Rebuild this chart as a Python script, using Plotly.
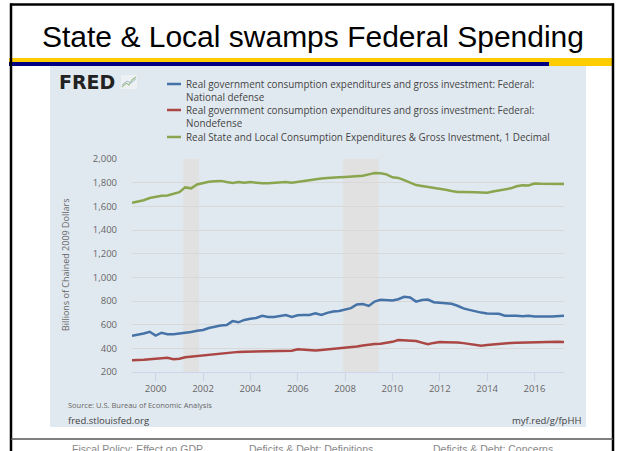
import pandas as pd
import plotly.graph_objects as go

# ---------------- data (quarterly, 1999Q1 - 2017Q2) ----------------
start_date = "1999-01-01"
n_quarters = 74

defense = [507, 515, 525, 540, 507, 532, 520, 520, 525, 532,
           538, 548, 555, 572, 585, 592, 597, 630, 620, 640,
           650, 656, 675, 665, 665, 672, 682, 665, 680, 682,
           682, 696, 682, 700, 712, 716, 728, 740, 770, 775,
           758, 795, 810, 808, 805, 815, 835, 830, 795, 808,
           812, 790, 785, 778, 776, 760, 738, 725, 712, 702,
           694, 690, 692, 676, 678, 676, 672, 675, 670, 673,
           670, 668, 670, 676]

nondefense = [300, 300, 303, 308, 310, 315, 320, 308, 312, 325,
              330, 335, 340, 350, 355, 360, 365, 368, 370, 372,
              373, 374, 378, 378, 380, 378, 382, 380, 392, 388,
              380, 382, 386, 390, 395, 400, 404, 410, 415, 424,
              432, 437, 438, 445, 455, 470, 468, 465, 462, 448,
              434, 446, 453, 452, 452, 450, 444, 437, 430, 422,
              428, 434, 436, 440, 446, 448, 450, 452, 453, 452,
              454, 456, 456, 454]

state_local = [1630, 1640, 1652, 1670, 1682, 1690, 1692, 1705, 1720, 1760,
               1752, 1785, 1800, 1808, 1812, 1815, 1805, 1798, 1805, 1800,
               1805, 1798, 1795, 1795, 1797, 1800, 1805, 1800, 1808, 1815,
               1820, 1828, 1835, 1840, 1845, 1845, 1848, 1850, 1855, 1858,
               1870, 1882, 1880, 1870, 1845, 1840, 1822, 1800, 1780, 1772,
               1765, 1760, 1750, 1740, 1730, 1722, 1722, 1723, 1720, 1717,
               1715, 1725, 1733, 1742, 1752, 1770, 1778, 1776, 1792, 1790,
               1790, 1790, 1792, 1788]

series_names = [
    "Real government consumption expenditures and gross investment: Federal:<br>National defense",
    "Real government consumption expenditures and gross investment: Federal:<br>Nondefense",
    "Real State and Local Consumption Expenditures & Gross Investment, 1 Decimal",
]
series_colors = ["#4572a7", "#aa4643", "#89a54e"]

recessions = [("2001-03-01", "2001-11-01"), ("2007-12-01", "2009-06-01")]
x_tick_years = list(range(2000, 2017, 2))
y_ticks = list(range(200, 2001, 200))

title_text = "State & Local swamps Federal Spending"
footer_items = ["Fiscal Policy: Effect on GDP", "Deficits & Debt: Definitions",
                "Deficits & Debt: Concerns"]

dates = pd.date_range(start_date, periods=n_quarters, freq="QS")

# ---------------- layout geometry (pixels) ----------------
W, H = 618, 451
PL, PR, PT, PB = 132, 564, 159, 372   # plot area


def px(x):
    return (x - PL) / (PR - PL)


def py(y):
    return (PB - y) / (PB - PT)


fig = go.Figure()
for vals, name, col in zip([defense, nondefense, state_local], series_names, series_colors):
    fig.add_trace(go.Scatter(x=dates, y=vals, mode="lines", name=name,
                             line=dict(color=col, width=2.5), showlegend=False))

shapes = []
# FRED panel
shapes.append(dict(type="rect", xref="paper", yref="paper", layer="below",
                   x0=px(50), x1=px(586), y0=py(427), y1=py(66),
                   fillcolor="#e1e9f0", line=dict(width=0)))
# recessions
for a, b in recessions:
    shapes.append(dict(type="rect", xref="x", yref="paper", layer="below",
                       x0=a, x1=b, y0=0, y1=1, fillcolor="#e1e1e1",
                       line=dict(width=0)))
# banner: yellow + navy
shapes.append(dict(type="rect", xref="paper", yref="paper",
                   x0=px(9), x1=px(612), y0=py(66), y1=py(58),
                   fillcolor="#ffcc00", line=dict(width=0)))
shapes.append(dict(type="rect", xref="paper", yref="paper",
                   x0=px(9), x1=px(549), y0=py(66), y1=py(62),
                   fillcolor="#000080", line=dict(width=0)))
# slide border
for (x0, y0, x1, y1) in [(10, 4.5, 614, 4.5), (11, 3.5, 11, 451), (613, 3.5, 613, 451)]:
    shapes.append(dict(type="line", xref="paper", yref="paper",
                       x0=px(x0), x1=px(x1), y0=py(y0), y1=py(y1),
                       line=dict(color="black", width=2.5)))
# footer rule
shapes.append(dict(type="line", xref="paper", yref="paper",
                   x0=px(11), x1=px(613), y0=py(439), y1=py(439),
                   line=dict(color="#555555", width=1.5)))
# legend swatches
for yy, col in zip([84, 110, 137], series_colors):
    shapes.append(dict(type="line", xref="paper", yref="paper",
                       x0=px(167), x1=px(181), y0=py(yy), y1=py(yy),
                       line=dict(color=col, width=2.5)))
# FRED logo icon
shapes.append(dict(type="rect", xref="paper", yref="paper",
                   x0=px(121), x1=px(137), y0=py(89), y1=py(75),
                   fillcolor="#eef1f4", line=dict(width=0)))
shapes.append(dict(type="path", xref="paper", yref="paper",
                   path="M {} {} L {} {} L {} {} L {} {} L {} {}".format(
                       px(122), py(87), px(126), py(83), px(129), py(85),
                       px(132), py(80), px(136), py(77)),
                   line=dict(color="#9fc08a", width=1.2)))
shapes.append(dict(type="path", xref="paper", yref="paper",
                   path="M {} {} L {} {} L {} {} L {} {}".format(
                       px(122), py(85), px(127), py(81), px(131), py(83),
                       px(136), py(79)),
                   line=dict(color="#a9bdd6", width=1.0)))

ann = []
# slide title
ann.append(dict(text=title_text, x=px(313), y=py(36), xref="paper", yref="paper",
                showarrow=False, xanchor="center", yanchor="middle",
                font=dict(family="Liberation Sans, Arial", size=30, color="black")))
# FRED wordmark
ann.append(dict(text="<b>FRED</b>", x=px(57), y=py(82), xref="paper", yref="paper",
                showarrow=False, xanchor="left", yanchor="middle",
                font=dict(family="DejaVu Sans", size=19, color="#222222")))
# legend text lines
leg_lines = [("Real government consumption expenditures and gross investment: Federal:", 84),
             ("National defense", 97),
             ("Real government consumption expenditures and gross investment: Federal:", 110),
             ("Nondefense", 123),
             ("Real State and Local Consumption Expenditures & Gross Investment, 1 Decimal", 137)]
for t, yy in leg_lines:
    ann.append(dict(text=t, x=px(184), y=py(yy), xref="paper", yref="paper",
                    showarrow=False, xanchor="left", yanchor="middle",
                    font=dict(family="Open Sans", size=9.9, color="#444444")))
# y-axis title
ann.append(dict(text="Billions of Chained 2009 Dollars", x=px(65), y=py(265),
                xref="paper", yref="paper", showarrow=False, textangle=-90,
                xanchor="center", yanchor="middle",
                font=dict(family="Open Sans", size=9, color="#666666")))
# source / links
ann.append(dict(text="Source: U.S. Bureau of Economic Analysis", x=px(66), y=py(405),
                xref="paper", yref="paper", showarrow=False, xanchor="left", yanchor="middle",
                font=dict(family="Open Sans", size=7.5, color="#666666")))
ann.append(dict(text="fred.stlouisfed.org", x=px(66), y=py(420),
                xref="paper", yref="paper", showarrow=False, xanchor="left", yanchor="middle",
                font=dict(family="Open Sans", size=9.5, color="#444444")))
ann.append(dict(text="myf.red/g/fpHH", x=px(583), y=py(420),
                xref="paper", yref="paper", showarrow=False, xanchor="right", yanchor="middle",
                font=dict(family="Open Sans", size=9.5, color="#444444")))
# footer nav (cut off by the slide's bottom edge, as in the reference)
for t, xc in zip(footer_items, [137, 311, 493]):
    ann.append(dict(text=t, x=px(xc), y=py(441), xref="paper", yref="paper",
                    showarrow=False, xanchor="center", yanchor="top",
                    font=dict(family="Liberation Sans, Arial", size=10.5, color="#888888")))

fig.update_layout(
    width=W, height=H,
    margin=dict(l=PL, r=W - PR, t=PT, b=H - PB, pad=0),
    paper_bgcolor="white", plot_bgcolor="white",
    shapes=shapes, annotations=ann,
    xaxis=dict(type="date", range=[dates[0], dates[-1]],
               tickvals=[pd.Timestamp(f"{y}-01-01") for y in x_tick_years],
               ticktext=[str(y) for y in x_tick_years],
               ticks="outside", ticklen=8, tickcolor="#ccd6eb", tickwidth=1,
               showline=True, linecolor="#ccd6eb", linewidth=1,
               showgrid=False, zeroline=False,
               tickfont=dict(family="Open Sans", size=9.5, color="#666666")),
    yaxis=dict(range=[200, 2000], tickvals=y_ticks, tickformat=",",
               showgrid=True, gridcolor="#d8d8d8", gridwidth=1,
               zeroline=False, showline=False, ticks="",
               ticklabelstandoff=14,
               tickfont=dict(family="Open Sans", size=9.5, color="#666666")),
)

fig.write_html("out.html")
